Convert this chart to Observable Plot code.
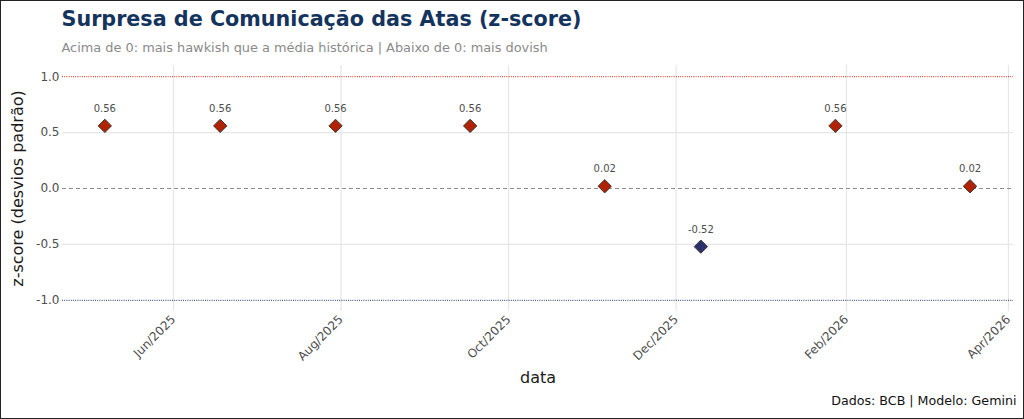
<!DOCTYPE html>
<html>
<head>
<meta charset="utf-8">
<script src="https://cdn.jsdelivr.net/npm/d3@7"></script>
<script src="https://cdn.jsdelivr.net/npm/@observablehq/plot@0.6"></script>
<style>
  html, body { margin: 0; padding: 0; background: #fff; }
  #wrap { position: relative; width: 1024px; height: 419px; overflow: hidden; }
  #frame { position: absolute; left: 0; top: 0; width: 1024px; height: 419px; box-sizing: border-box; border: 1px solid #222; pointer-events: none; }
  svg { font-family: "DejaVu Sans", sans-serif; }
</style>
</head>
<body>
<div id="wrap"><div id="frame"></div></div>
<script>
// ---- data ----
const dates = ["2025-05-07", "2025-06-18", "2025-07-30", "2025-09-17", "2025-11-05", "2025-12-10", "2026-01-28", "2026-03-18"];
const zscores = [0.56, 0.56, 0.56, 0.56, 0.02, -0.52, 0.56, 0.02];
const xTicks = ["2025-06-01", "2025-08-01", "2025-10-01", "2025-12-01", "2026-02-01", "2026-04-01"];
const yTicks = [-1.0, -0.5, 0.0, 0.5, 1.0];
const title = "Surpresa de Comunicação das Atas (z-score)";
const subtitle = "Acima de 0: mais hawkish que a média histórica | Abaixo de 0: mais dovish";
const caption = "Dados: BCB | Modelo: Gemini";
const xTitle = "data";
const yTitle = "z-score (desvios padrão)";

const red = "#B22200";
const navy = "#2B2F6B";

const data = dates.map((d, i) => ({date: new Date(d), z: zscores[i]}));
const xTickDates = xTicks.map(d => new Date(d));
const fmtMonth = d3.utcFormat("%b/%Y");

const chart = Plot.plot({
  width: 1024,
  height: 419,
  marginTop: 65,
  marginBottom: 108,
  marginLeft: 62,
  marginRight: 11,
  style: {fontFamily: "DejaVu Sans, sans-serif", background: "transparent", overflow: "visible"},
  x: {type: "utc", domain: [new Date("2025-04-21T14:00Z"), new Date("2026-04-02T20:00Z")]},
  y: {domain: [-1.1, 1.1]},
  marks: [
    Plot.gridX(xTickDates, {stroke: "#e6e6e6", strokeOpacity: 1, strokeWidth: 1.2}),
    Plot.gridY([-0.5, 0.5], {stroke: "#e6e6e6", strokeOpacity: 1, strokeWidth: 1.2}),
    Plot.ruleY([0], {stroke: "#8c8c8c", strokeWidth: 1, strokeDasharray: "4,3"}),
    Plot.ruleY([1], {stroke: "#cc2a1a", strokeWidth: 1, strokeDasharray: "1,1.2"}),
    Plot.ruleY([-1], {stroke: navy, strokeWidth: 1, strokeDasharray: "1,1.2"}),
    Plot.axisX({ticks: xTickDates, tickFormat: fmtMonth, tickRotate: -45, tickSize: 0, tickPadding: 6, fontSize: 12, fill: "#4d4d4d", label: null}),
    Plot.axisY({ticks: yTicks, tickFormat: d => d.toFixed(1), tickSize: 0, tickPadding: 3, fontSize: 12, fill: "#4d4d4d", label: null}),
    Plot.dot(data, {x: "date", y: "z", symbol: "diamond2", r: 6, fill: d => d.z >= 0 ? red : navy, stroke: "#383838", strokeWidth: 1}),
    Plot.text(data, {x: "date", y: "z", text: d => d.z.toFixed(2), dy: -17, fontSize: 10, fill: "#4d4d4d"}),
    // titles and captions
    Plot.text([title], {frameAnchor: "top-left", text: d => d, dx: -1, dy: -46, fontSize: 20.7, fontWeight: "bold", fill: "#14345E", textAnchor: "start", lineAnchor: "middle"}),
    Plot.text([subtitle], {frameAnchor: "top-left", text: d => d, dx: -1, dy: -18, fontSize: 12.9, fill: "#8a8a8a", textAnchor: "start", lineAnchor: "middle"}),
    Plot.text([yTitle], {frameAnchor: "left", text: d => d, dx: -45, rotate: -90, fontSize: 16, fill: "#1a1a1a", textAnchor: "middle", lineAnchor: "middle"}),
    Plot.text([xTitle], {frameAnchor: "bottom", text: d => d, dy: 66, fontSize: 16, fill: "#1a1a1a", textAnchor: "middle", lineAnchor: "middle"}),
    Plot.text([caption], {frameAnchor: "bottom-right", text: d => d, dx: 3, dy: 89, fontSize: 12.65, fill: "#111", textAnchor: "end", lineAnchor: "middle"})
  ]
});
document.getElementById("wrap").prepend(chart);
</script>
</body>
</html>
